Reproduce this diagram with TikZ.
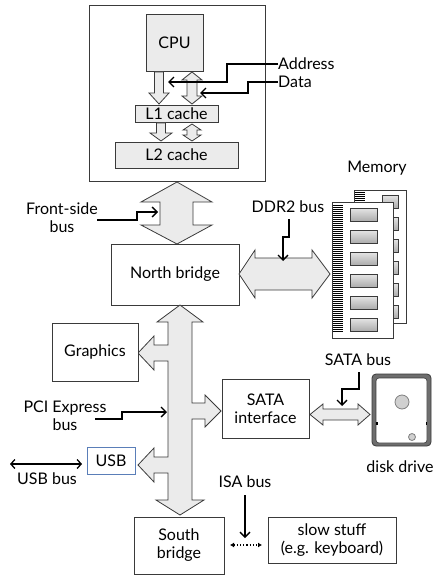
\documentclass[tikz,border=0pt]{standalone}
\usepackage{fontspec}
\setmainfont{Lato}
\usetikzlibrary{arrows.meta}
\definecolor{busfill}{HTML}{EBEBEB}
\definecolor{edge}{HTML}{3A3A3A}
\definecolor{usbblue}{HTML}{5A7EB8}
\definecolor{diskgray}{HTML}{6E6E6E}
\definecolor{platter}{HTML}{D0D0D0}
\begin{document}
\begin{tikzpicture}[x=1pt,y=-1pt,
  txt/.style={font=\fontsize{16}{18}\selectfont},
  box/.style={draw=edge,line width=0.8pt,fill=white,inner sep=0pt,align=center,txt},
  graybox/.style={box,fill=busfill},
  bus/.style={draw=edge,line width=0.8pt,fill=busfill,line join=miter},
  lbl/.style={inner sep=0pt,align=center,txt},
  callout/.style={draw=black,line width=1.5pt,
    -{Straight Barb[length=5pt,width=10pt,line width=1.3pt]}},
  chip/.style={draw=edge,line width=0.8pt,top color=gray!20,bottom color=gray!65},
  stickpcb/.style={draw=edge,line width=0.8pt,fill=white},
]
\useasboundingbox (0,0) rectangle (434,575);

% ---------- processor package ----------
\node[box,minimum width=176pt,minimum height=176pt] (pkg) at (177,93) {};
\node[graybox,minimum width=57pt,minimum height=57pt] (cpu) at (174.5,42.5) {CPU};
\node[graybox,minimum width=83pt,minimum height=17pt] (l1) at (176.5,113.5) {L1 cache};
\node[graybox,minimum width=123pt,minimum height=26pt] (l2) at (176.5,155) {L2 cache};

% CPU -> L1 (address) and CPU <-> L1 (data)
\draw[bus] (154.5,72) -- (163.5,72) -- (163.5,93) -- (169,93) -- (159,104) -- (149,93) -- (154.5,93) -- cycle;
\draw[bus] (192,72) -- (202,80) -- (197,80) -- (197,96) -- (202,96) -- (192,104)
  -- (182,96) -- (187,96) -- (187,80) -- (182,80) -- cycle;
% L1 -> L2
\draw[bus] (156.5,123) -- (165.5,123) -- (165.5,133) -- (172,133) -- (161,141) -- (150,133) -- (156.5,133) -- cycle;
\draw[bus] (192,124) -- (201,130) -- (197,130) -- (197,135) -- (201,135) -- (192,141)
  -- (183,135) -- (187,135) -- (187,130) -- (183,130) -- cycle;

\node[lbl,anchor=west] (addr) at (278,64) {Address};
\node[lbl,anchor=west] (data) at (278,82) {Data};
\coordinate (addrtip) at (168,82);
\coordinate (datatip) at (200,93);
\draw[callout] (addr.west) -- (227,64) |- (addrtip);
\draw[callout] (data.west) -- (248,82) |- (datatip);

% ---------- front-side bus ----------
\draw[bus] (177,182) -- (212,202) -- (193,202) -- (193,225) -- (212,225) -- (177,244)
  -- (141,225) -- (160,225) -- (160,202) -- (141,202) -- cycle;
\node[lbl] (fsb) at (62,218) {Front-side\\bus};
\coordinate (fsbtip) at (158,212);
\draw[callout] (97,220) -- (137,220) |- (fsbtip);

% ---------- north bridge and memory ----------
\node[box,minimum width=128pt,minimum height=61pt] (nb) at (175,274.5) {North bridge};

\draw[bus] (239,274) -- (255,250) -- (255,258) -- (312,258) -- (312,250) -- (330,274)
  -- (312,298) -- (312,290) -- (255,290) -- (255,298) -- cycle;
\node[lbl] (ddr) at (288,207) {DDR2 bus};
\coordinate (ddrtip) at (283,261);
\draw[callout] (289,219) |- (283,237) -- (ddrtip);

\node[lbl] (mem) at (377,168) {Memory};
% rear memory module
\draw[stickpcb] (354,190) rectangle (406,323);
\foreach \k in {0,...,4} \draw[line width=1pt] (355,192.5+2*\k) -- (365,192.5+2*\k);
\foreach \k in {0,...,5} \draw[chip] (382,195+22*\k) rectangle (398,208+22*\k);
% front memory module
\draw[stickpcb] (332,202) rectangle (393,338);
\foreach \k in {0,...,63} \draw[line width=1pt] (333,205.5+2*\k) -- (343,205.5+2*\k);
\foreach \k in {0,...,5} \draw[chip] (350,208+22*\k) rectangle (377,221+22*\k);

% ---------- PCI Express bus with its branches ----------
\draw[bus] (180,305) -- (203,322) -- (192,322) -- (192,403) -- (205,403) -- (205,395)
  -- (221,411) -- (205,427) -- (205,419) -- (192,419) -- (192,500) -- (204,500)
  -- (180,515) -- (156,500) -- (168,500) -- (168,473) -- (154,473) -- (154,482)
  -- (138,465) -- (154,448) -- (154,457) -- (168,457) -- (168,361) -- (154,361)
  -- (154,370) -- (138,353) -- (154,336) -- (154,345) -- (168,345) -- (168,322)
  -- (157,322) -- cycle;

\node[box,minimum width=86pt,minimum height=58pt] (gfx) at (95,352) {Graphics};
\node[box,minimum width=87pt,minimum height=59pt] (sata) at (265.5,408.5) {SATA\\interface};
\node[box,draw=usbblue,minimum width=48pt,minimum height=27pt] (usb) at (111,460.5) {USB};

\node[lbl] (pcie) at (65,415.5) {PCI Express\\bus};
\coordinate (pcietip) at (167,412);
\draw[callout] (95,419) -- (122,419) |- (pcietip);

% ---------- SATA bus and disk ----------
\draw[bus] (310,414.5) -- (323,404) -- (323,409) -- (358,409) -- (358,404) -- (370,414.5)
  -- (358,425) -- (358,420) -- (323,420) -- (323,425) -- cycle;
\node[lbl] (satabus) at (358,360) {SATA bus};
\coordinate (satatip) at (342,406);
\draw[callout] (359,372) |- (342,389) -- (satatip);

\draw[draw=edge,line width=0.8pt,fill=diskgray,rounded corners=4pt] (372,374) rectangle (431,446);
\draw[draw=edge,line width=0.6pt,fill=white,rounded corners=3pt] (376,378) rectangle (427,443);
\draw[draw=gray,line width=0.8pt,fill=platter] (402,402) circle (7);
\draw[draw=gray,line width=0.8pt,fill=platter] (412,437) circle (3.5);
\fill[black] (376,421.5) rectangle (377.5,424.5);
\fill[black] (425.5,421.5) rectangle (427,424.5);
\node[lbl] (disk) at (400,467) {disk drive};

% ---------- USB bus ----------
\node[lbl] (usbbus) at (47,479) {USB bus};
\coordinate (usbl) at (10,464);
\coordinate (usbr) at (82,464);
\draw[line width=1.3pt,{Straight Barb[length=4pt,width=9pt]}-{Straight Barb[length=4pt,width=9pt]}] (usbl) -- (usbr);

% ---------- south bridge and ISA ----------
\node[box,minimum width=90pt,minimum height=57pt] (sb) at (179,545.5) {South\\bridge};
\node[box,minimum width=128pt,minimum height=46pt] (slow) at (332,540) {slow stuff\\(e.g. keyboard)};
\draw[line width=1.2pt,dotted,{Latex[length=4pt,width=5pt]}-{Latex[length=4pt,width=5pt]}] (230,545) -- (262,545);
\node[lbl] (isa) at (245,482) {ISA bus};
\coordinate (isatip) at (245,538);
\draw[callout] (245,495) -- (isatip);
\end{tikzpicture}
\end{document}
